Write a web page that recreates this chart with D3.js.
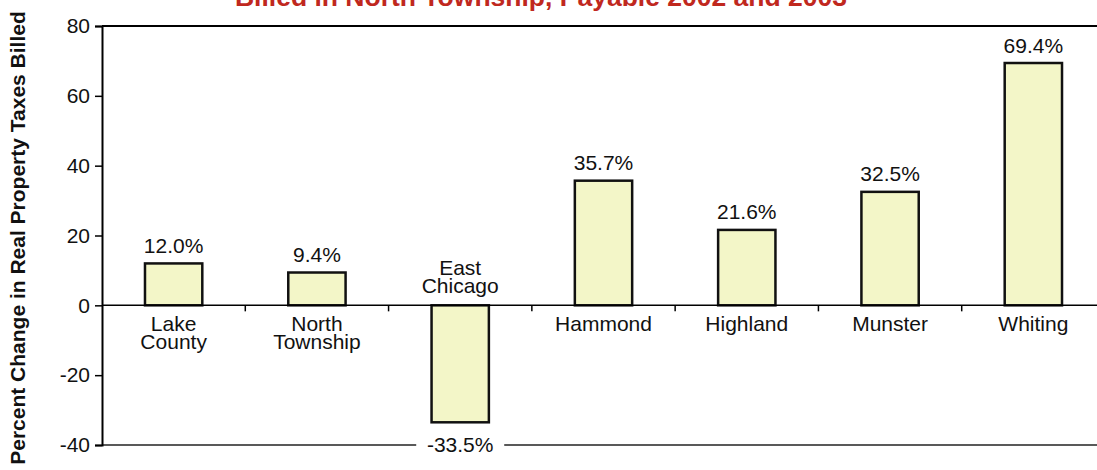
<!DOCTYPE html>
<html>
<head>
<meta charset="utf-8">
<script src="https://cdn.jsdelivr.net/npm/d3@7"></script>
<style>
  body { margin: 0; background: #fff; }
  svg { display: block; font-family: "Liberation Sans", Arial, sans-serif; }
</style>
</head>
<body>
<svg id="chart" width="1097" height="470"></svg>
<script>
const categories = ['Lake County', 'North Township', 'East Chicago', 'Hammond', 'Highland', 'Munster', 'Whiting'];
const labelLines = [['Lake', 'County'], ['North', 'Township'], ['East', 'Chicago'], ['Hammond'], ['Highland'], ['Munster'], ['Whiting']];
const values = [12.0, 9.4, -33.5, 35.7, 21.6, 32.5, 69.4];
const yTicks = [-40, -20, 0, 20, 40, 60, 80];

const svg = d3.select('#chart');
const plotLeft = 102, plotRight = 1105, plotTop = 26, plotBottom = 445;

const x = d3.scaleBand().domain(categories).range([plotLeft, plotRight]);
const y = d3.scaleLinear().domain([-40, 80]).range([plotBottom, plotTop]);
const barW = x.bandwidth() * 0.4;

// title (cut off at top in the original)
svg.append('text')
    .attr('x', 541)
    .attr('y', 6)
    .attr('text-anchor', 'middle')
    .attr('font-size', '26.5px')
    .attr('font-weight', 'bold')
    .attr('fill', '#c0281e')
    .text('Billed in North Township, Payable 2002 and 2003');

// y axis label
svg.append('text')
    .attr('transform', 'translate(25,238) rotate(-90)')
    .attr('text-anchor', 'middle')
    .attr('font-size', '21px')
    .attr('font-weight', 'bold')
    .attr('fill', '#111')
    .text('Percent Change in Real Property Taxes Billed');

// frame lines
svg.append('line')
    .attr('x1', plotLeft).attr('x2', 1097)
    .attr('y1', y(80)).attr('y2', y(80))
    .attr('stroke', '#000').attr('stroke-width', 2);
svg.append('line')
    .attr('x1', plotLeft).attr('x2', 1097)
    .attr('y1', y(-40)).attr('y2', y(-40))
    .attr('stroke', '#222').attr('stroke-width', 1.5);

// y axis
const yAxis = svg.append('g')
    .attr('transform', `translate(${plotLeft},0)`)
    .call(d3.axisLeft(y).tickValues(yTicks).tickSize(7).tickPadding(5).tickFormat(d => String(d)));
yAxis.select('.domain').attr('stroke', '#000').attr('stroke-width', 2);
yAxis.selectAll('.tick line').attr('stroke', '#000').attr('stroke-width', 1.5);
yAxis.selectAll('.tick text')
    .attr('font-size', '21px')
    .attr('font-family', '"Liberation Sans", Arial, sans-serif')
    .attr('fill', '#111');

// bars
svg.selectAll('.bar')
    .data(values)
    .enter()
    .append('rect')
    .attr('class', 'bar')
    .attr('x', (d, i) => x(categories[i]) + (x.bandwidth() - barW) / 2)
    .attr('y', d => y(Math.max(0, d)))
    .attr('width', barW)
    .attr('height', d => Math.abs(y(d) - y(0)))
    .attr('fill', '#f3f6c8')
    .attr('stroke', '#111')
    .attr('stroke-width', 2.5);

// zero line with category ticks
svg.append('line')
    .attr('x1', plotLeft).attr('x2', 1097)
    .attr('y1', y(0)).attr('y2', y(0))
    .attr('stroke', '#000').attr('stroke-width', 1.5);
svg.selectAll('.cat-tick')
    .data(categories.slice(1))
    .enter()
    .append('line')
    .attr('x1', d => x(d)).attr('x2', d => x(d))
    .attr('y1', y(0)).attr('y2', y(0) + 6)
    .attr('stroke', '#000').attr('stroke-width', 1.5);

// category labels
const lineGap = 18;
const catGroup = svg.selectAll('.cat-label')
    .data(labelLines)
    .enter()
    .append('text')
    .attr('class', 'cat-label')
    .attr('text-anchor', 'middle')
    .attr('font-size', '21px')
    .attr('fill', '#111');
catGroup.each(function(lines, i) {
    const cx = x(categories[i]) + x.bandwidth() / 2;
    const neg = values[i] < 0;
    const firstY = neg ? y(0) - 12 - (lines.length - 1) * lineGap : y(0) + 26;
    lines.forEach((line, j) => {
        d3.select(this).append('tspan')
            .attr('x', cx)
            .attr('y', firstY + j * lineGap)
            .text(line);
    });
});

// value labels
values.forEach((v, i) => {
    const cx = x(categories[i]) + x.bandwidth() / 2;
    const txt = v.toFixed(1) + '%';
    if (v >= 0) {
        svg.append('text')
            .attr('x', cx)
            .attr('y', y(v) - 10.5)
            .attr('text-anchor', 'middle')
            .attr('font-size', '21px')
            .attr('fill', '#111')
            .text(txt);
    } else {
        svg.append('rect')
            .attr('x', cx - 44)
            .attr('y', y(-40) - 6)
            .attr('width', 88)
            .attr('height', 14)
            .attr('fill', '#fff');
        svg.append('text')
            .attr('x', cx)
            .attr('y', y(-40) + 6.5)
            .attr('text-anchor', 'middle')
            .attr('font-size', '21px')
            .attr('fill', '#111')
            .text(txt);
    }
});
</script>
</body>
</html>
